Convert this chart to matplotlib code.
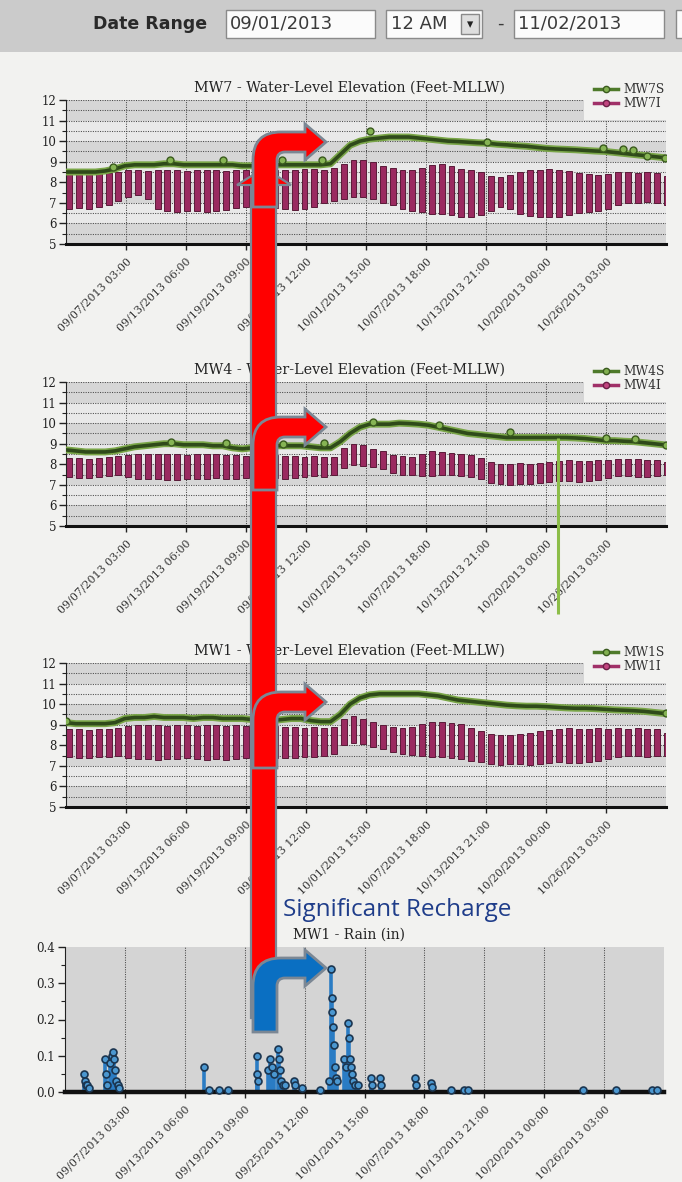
import matplotlib
matplotlib.use('Agg')
import matplotlib.pyplot as plt
from matplotlib.patches import Rectangle, PathPatch
from matplotlib.path import Path
from matplotlib.lines import Line2D
import numpy as np
from datetime import datetime

# ---------------- data ----------------
start_date = "09/01/2013 00:00"
end_date_text = "11/02/2013"
tick_labels = ["09/07/2013 03:00", "09/13/2013 06:00", "09/19/2013 09:00",
               "09/25/2013 12:00", "10/01/2013 15:00", "10/07/2013 18:00",
               "10/13/2013 21:00", "10/20/2013 00:00", "10/26/2013 03:00"]

days = np.arange(62)  # daily samples since 09/01/2013

mw7s = [8.5, 8.5, 8.5, 8.5, 8.55, 8.65, 8.8, 8.85, 8.85, 8.85, 8.9, 8.9, 8.85, 8.85,
        8.85, 8.85, 8.85, 8.85, 8.8, 8.8, 8.85, 8.85, 8.85, 8.85, 8.85, 8.85, 8.85, 8.9,
        9.35, 9.8, 10.0, 10.1, 10.15, 10.2, 10.2, 10.2, 10.15, 10.1, 10.05, 10.0, 9.98,
        9.95, 9.92, 9.9, 9.85, 9.82, 9.78, 9.75, 9.7, 9.65, 9.62, 9.6, 9.58, 9.55, 9.52,
        9.5, 9.45, 9.4, 9.35, 9.3, 9.25, 9.2]
mw7i_high = [8.4, 8.4, 8.4, 8.45, 8.45, 8.5,
             8.6, 8.6, 8.55, 8.6, 8.6, 8.6, 8.55, 8.6, 8.6, 8.6, 8.55, 8.6, 8.6, 8.6, 8.55,
             8.6, 8.6, 8.6, 8.65, 8.65, 8.6, 8.7,
             8.9, 9.1, 9.1, 9.0, 8.8, 8.7, 8.6, 8.6, 8.7, 8.85, 8.9, 8.8, 8.65, 8.6, 8.5,
             8.3, 8.25, 8.35, 8.5, 8.6, 8.6, 8.65, 8.6, 8.55, 8.45, 8.4, 8.35, 8.4,
             8.5, 8.5, 8.45, 8.5, 8.45, 8.3]
mw7i_low = [6.7, 6.75, 6.7, 6.8, 6.9, 7.1, 7.3, 7.4, 7.2,
            6.7, 6.6, 6.55, 6.6, 6.6, 6.55, 6.6, 6.65, 6.75, 6.8, 6.9, 6.9,
            6.75, 6.7, 6.65, 6.7, 6.8, 7.0, 7.1, 7.2, 7.3, 7.3, 7.2, 7.0, 6.9,
            6.7, 6.6, 6.55, 6.45, 6.45, 6.4, 6.3, 6.3, 6.4, 6.6, 6.8, 6.7,
            6.45, 6.35, 6.3, 6.3, 6.3, 6.4, 6.5, 6.55, 6.6, 6.7,
            6.9, 7.0, 7.0, 7.05, 7.0, 6.9]
mw7s_marker_days = [4.8, 10.6, 16.0, 22.0, 26.1, 31.0, 43.0, 54.8, 56.9, 57.9, 59.3, 61.1]
mw7s_marker_vals = [8.75, 9.1, 9.1, 9.1, 9.1, 10.47, 9.96, 9.66, 9.6, 9.55, 9.3, 9.2]

mw4s = [8.7, 8.65, 8.6, 8.6, 8.6, 8.65, 8.75, 8.85, 8.9, 8.95, 9.0,
        9.0, 8.95, 8.95, 8.95, 8.9, 8.9, 8.8, 8.75, 8.8, 8.85, 8.9,
        8.9, 8.9, 8.9, 8.85, 8.8, 8.8, 9.1, 9.5, 9.8, 9.95,
        9.95, 9.95, 10.0, 9.98, 9.95, 9.9, 9.8, 9.7, 9.6, 9.5, 9.45, 9.4,
        9.35, 9.3, 9.3, 9.3, 9.3, 9.3, 9.3, 9.3, 9.28, 9.25, 9.2,
        9.15, 9.15, 9.12, 9.1, 9.05, 9.0, 8.95]
mw4i_high = [8.3, 8.3, 8.25, 8.3, 8.35, 8.4, 8.45, 8.5, 8.5, 8.5, 8.5,
             8.5, 8.45, 8.5, 8.5, 8.5, 8.45, 8.45, 8.4,
             8.4, 8.4, 8.45, 8.4, 8.4, 8.35, 8.4, 8.35, 8.35,
             8.8, 9.0, 8.95, 8.75, 8.65, 8.45, 8.4, 8.35, 8.5, 8.65, 8.6,
             8.55, 8.5, 8.45, 8.3, 8.1, 8.0, 8.0, 8.05, 8.0, 8.05, 8.1,
             8.15, 8.2, 8.15, 8.15, 8.2, 8.2, 8.25, 8.25, 8.25, 8.2, 8.2, 8.1]
mw4i_low = [7.4, 7.35, 7.35, 7.4, 7.45, 7.5, 7.4, 7.3, 7.3, 7.3, 7.25,
            7.25, 7.3, 7.3, 7.3, 7.35, 7.3, 7.3, 7.35,
            7.35, 7.4, 7.35, 7.3, 7.35, 7.4, 7.45, 7.4, 7.5,
            7.8, 7.95, 7.9, 7.85, 7.75, 7.6, 7.5, 7.5, 7.45, 7.45, 7.5,
            7.5, 7.45, 7.4, 7.3, 7.1, 7.05, 7.0, 7.05, 7.05, 7.1, 7.15,
            7.2, 7.2, 7.15, 7.2, 7.25, 7.35, 7.45, 7.45, 7.4, 7.4, 7.45, 7.5]
mw4s_marker_days = [10.7, 16.3, 22.2, 26.3, 31.3, 38.1, 45.3, 55.1, 58.1, 61.2]
mw4s_marker_vals = [9.1, 9.02, 9.0, 9.05, 10.05, 9.93, 9.55, 9.28, 9.25, 8.95]
mw4s_spike_day = 50.2
mw4s_spike_low = 0.74
mw4s_spike_high = 9.3

mw1s = [9.1, 9.05, 9.05, 9.05, 9.05, 9.1,
        9.3, 9.35, 9.35, 9.4, 9.35, 9.35, 9.35, 9.3, 9.35, 9.35, 9.3, 9.3, 9.3,
        9.25, 9.25, 9.2, 9.25, 9.3, 9.3, 9.2, 9.15, 9.15,
        9.5, 10.0, 10.3, 10.45, 10.5, 10.5, 10.5, 10.5, 10.5, 10.45,
        10.4, 10.3, 10.2, 10.15, 10.1, 10.05, 10.0, 9.95, 9.92, 9.9, 9.9, 9.88,
        9.85, 9.82, 9.8, 9.8, 9.78, 9.75, 9.72, 9.7, 9.68, 9.65, 9.6, 9.55]
mw1i_high = [8.8, 8.8, 8.75, 8.8, 8.8, 8.85,
             8.95, 9.0, 9.0, 9.0, 8.95, 9.0, 9.0, 8.95, 9.0, 9.0, 8.95, 9.0, 8.95,
             8.9, 8.9, 8.95, 8.9, 8.9, 8.85, 8.9, 8.85, 8.9,
             9.3, 9.4, 9.3, 9.15, 9.0, 8.9, 8.85, 8.9, 9.05, 9.15, 9.15, 9.1, 9.05,
             8.85, 8.7, 8.55, 8.5, 8.5, 8.55, 8.6, 8.7, 8.75,
             8.8, 8.85, 8.8, 8.8, 8.85, 8.8, 8.85, 8.8, 8.85, 8.8, 8.8, 8.6]
mw1i_low = [7.45, 7.4, 7.4, 7.45, 7.45, 7.5,
            7.4, 7.35, 7.35, 7.3, 7.35, 7.35, 7.4, 7.35, 7.3, 7.35, 7.3, 7.35, 7.4,
            7.4, 7.45, 7.4, 7.4, 7.4, 7.45, 7.45, 7.5, 7.6,
            8.0, 8.1, 8.05, 7.9, 7.8, 7.65, 7.6, 7.55, 7.5, 7.45, 7.45, 7.4, 7.35,
            7.25, 7.2, 7.1, 7.05, 7.1, 7.1, 7.05, 7.1, 7.15,
            7.2, 7.15, 7.15, 7.2, 7.25, 7.35, 7.45, 7.5, 7.5, 7.45, 7.5, 7.5]
mw1s_marker_days = [0.0, 61.2]
mw1s_marker_vals = [9.2, 9.55]

rain_days = [1.9, 2.0, 2.1, 2.3, 2.5,
             4.1, 4.2, 4.3, 4.6, 4.8, 4.9, 5.0, 5.1, 5.2, 5.4, 5.5,
             14.2, 14.7, 15.7, 16.7,
             19.6, 19.65, 19.7,
             20.8, 21.0, 21.2, 21.4, 21.8, 21.9, 22.0, 22.1, 22.3, 22.5,
             23.4, 23.5, 24.2, 26.1,
             27.0, 27.2, 27.3, 27.35, 27.4, 27.5, 27.6, 27.7, 27.8,
             28.5, 28.7, 28.9, 29.0, 29.1, 29.2, 29.3, 29.5, 29.7,
             30.0, 31.3, 31.4, 32.2, 32.3,
             35.8, 35.85, 37.4, 37.5, 39.5, 40.8, 41.2, 53.0, 56.3, 60.0, 60.5]
rain_vals = [0.05, 0.03, 0.02, 0.02, 0.01,
             0.09, 0.05, 0.02, 0.08, 0.10, 0.11, 0.09, 0.06, 0.03, 0.02, 0.01,
             0.07, 0.005, 0.005, 0.005,
             0.10, 0.05, 0.03,
             0.06, 0.09, 0.07, 0.05, 0.12, 0.09, 0.06, 0.03, 0.02, 0.02,
             0.03, 0.02, 0.01, 0.005,
             0.03, 0.34, 0.26, 0.22, 0.18, 0.13, 0.07, 0.04, 0.03,
             0.09, 0.07, 0.19, 0.15, 0.09, 0.07, 0.05, 0.03, 0.02,
             0.02, 0.04, 0.02, 0.04, 0.02,
             0.04, 0.02, 0.025, 0.015, 0.005, 0.005, 0.005, 0.005, 0.005, 0.005, 0.005]

# ---------------- layout ----------------
W, H = 682, 1182
plt.rcParams['font.family'] = ['DejaVu Serif']
PAGE = '#f2f2f0'
fig = plt.figure(figsize=(W / 100, H / 100), dpi=100, facecolor=PAGE)

t0 = datetime.strptime(start_date, "%m/%d/%Y %H:%M")
tick_pos = [(datetime.strptime(s, "%m/%d/%Y %H:%M") - t0).total_seconds() / 86400
            for s in tick_labels]
XMAX = 61.25


def fx(x):
    return x / W


def fy(y):
    return 1 - y / H


def rect_px(x, y, w, h, fc, ec='none', lw=1.0, z=1):
    r = Rectangle((fx(x), fy(y + h)), w / W, h / H, transform=fig.transFigure,
                  facecolor=fc, edgecolor=ec, linewidth=lw, zorder=z)
    fig.add_artist(r)


def add_axes_px(top, bottom, left=66, right=666):
    return fig.add_axes([fx(left), fy(bottom), (right - left) / W, (bottom - top) / H])


GRID = dict(color='#4a4a4a', linestyle=(0, (1, 1.3)), linewidth=0.75)


def style_x(ax):
    ax.set_xlim(0, XMAX)
    ax.set_xticks(tick_pos)
    ax.set_xticklabels(tick_labels, rotation=45, ha='right', va='top',
                       rotation_mode='anchor', fontsize=7.9, color='#333333')
    ax.tick_params(axis='x', length=4, width=1, pad=5, color='#222222')
    ax.spines['top'].set_visible(False)
    ax.spines['right'].set_visible(False)
    ax.spines['left'].set_color('#222222')
    ax.spines['bottom'].set_color('#111111')


def level_chart(top, title, s_vals, hi, lo, mk_d, mk_v, names):
    ax = add_axes_px(top, top + 144)
    ax.set_facecolor('#e9e9e9')
    ax.set_ylim(5, 12)
    for b in (5, 7, 9, 11):
        ax.axhspan(b, b + 1, color='#d6d6d6', zorder=0, lw=0)
    ax.set_axisbelow(True)
    ax.set_yticks(range(5, 13))
    ax.set_yticks(np.arange(5, 12.01, 0.5), minor=True)
    ax.grid(which='both', axis='y', **GRID)
    ax.grid(which='major', axis='x', **GRID)
    ax.tick_params(axis='y', which='major', length=5, width=1, labelsize=8.5,
                   pad=2, color='#222222', labelcolor='#222222')
    ax.tick_params(axis='y', which='minor', length=3, width=0.8, color='#222222')
    style_x(ax)
    ax.spines['bottom'].set_linewidth(2.2)
    # legend backdrop
    ax.add_patch(Rectangle((52.9, 11.05), XMAX, 1.2, facecolor=PAGE,
                           edgecolor='none', zorder=0.8))
    hi = np.asarray(hi)
    lo = np.asarray(lo)
    ax.bar(days + 0.35, hi - lo, bottom=lo, width=0.6, color='#9a2a60',
           edgecolor='#5a1a38', linewidth=0.7, zorder=2)
    ax.plot(days, s_vals, color='#7aa648', lw=5.0, solid_capstyle='round', zorder=3)
    ax.plot(days, s_vals, color='#2f4a1a', lw=2.6, solid_capstyle='round', zorder=3.1)
    ax.plot(mk_d, mk_v, 'o', ms=5, mfc='#86b454', mec='#3a5a1e', mew=1, zorder=3.2)
    fig.text(fx(349), fy(top - 12), title, ha='center', va='center',
             fontsize=10.3, color='#222222')
    handles = [Line2D([], [], color='#4e7a2a', lw=2.5, marker='o', ms=4.5,
                      mfc='#82b050', mec='#3a5a1e'),
               Line2D([], [], color='#a03068', lw=2.5, marker='o', ms=4.5,
                      mfc='#c2457f', mec='#6a1f45')]
    leg = ax.legend(handles, names, loc='upper left',
                    bbox_to_anchor=(fx(594), fy(top - 17)),
                    bbox_transform=fig.transFigure, frameon=False, fontsize=8.8,
                    handlelength=2.0, handletextpad=0.4, labelspacing=0.12,
                    borderaxespad=0, borderpad=0)
    for tx in leg.get_texts():
        tx.set_color('#333333')
    return ax


ax7 = level_chart(100, "MW7 - Water-Level Elevation (Feet-MLLW)", mw7s,
                  mw7i_high, mw7i_low, mw7s_marker_days, mw7s_marker_vals,
                  ['MW7S', 'MW7I'])
ax4 = level_chart(382, "MW4 - Water-Level Elevation (Feet-MLLW)", mw4s,
                  mw4i_high, mw4i_low, mw4s_marker_days, mw4s_marker_vals,
                  ['MW4S', 'MW4I'])
ax4.vlines(mw4s_spike_day, mw4s_spike_low, mw4s_spike_high, color='#8cbd48',
           lw=2.2, clip_on=False, zorder=4)
ax1 = level_chart(663, "MW1 - Water-Level Elevation (Feet-MLLW)", mw1s,
                  mw1i_high, mw1i_low, mw1s_marker_days, mw1s_marker_vals,
                  ['MW1S', 'MW1I'])

# rain chart
axr = add_axes_px(947, 1092, left=65, right=664)
axr.set_facecolor('#d4d4d4')
axr.set_ylim(0, 0.4)
axr.set_yticks(np.arange(0, 0.41, 0.1))
axr.set_yticks(np.arange(0, 0.41, 0.05), minor=True)
axr.set_yticklabels([f"{v:.1f}" for v in np.arange(0, 0.41, 0.1)])
axr.set_axisbelow(True)
axr.grid(which='major', axis='x', **GRID)
axr.tick_params(axis='y', which='major', length=5, width=1, labelsize=8.5, pad=2,
                color='#222222', labelcolor='#222222')
axr.tick_params(axis='y', which='minor', length=3, width=0.8, color='#222222')
style_x(axr)
axr.spines['bottom'].set_linewidth(3.2)
axr.vlines(rain_days, 0, rain_vals, color='#2a7cc4', lw=2.6, zorder=2)
axr.plot(rain_days, rain_vals, 'o', ms=5, mfc='#4b97d0', mec='#1b3550', mew=1.2,
         zorder=3, clip_on=False)
fig.text(fx(349), fy(935), "MW1 - Rain (in)", ha='center', va='center',
         fontsize=10, color='#222222')
fig.text(fx(283), fy(910), "Significant Recharge", ha='left', va='center',
         fontsize=17.5, color='#1f3d8a', family=['Open Sans', 'DejaVu Sans'])

# ---------------- header ----------------
rect_px(0, 0, W, 52, '#cbcbcb', z=1)
fig.text(fx(93), fy(24), "Date Range", ha='left', va='center', fontsize=12.5,
         fontweight='bold', color='#2a2a2a', family=['DejaVu Sans'])
rect_px(226, 10, 149, 28, '#fbfbfb', '#8a8a8a', 1, z=2)
fig.text(fx(230), fy(24), start_date.split()[0], ha='left', va='center',
         fontsize=13, color='#3a3a3a', family=['DejaVu Sans'])
rect_px(386, 10, 96, 28, '#fbfbfb', '#8a8a8a', 1, z=2)
fig.text(fx(391), fy(24), "12 AM", ha='left', va='center', fontsize=13,
         color='#3a3a3a', family=['DejaVu Sans'])
rect_px(461, 14, 18, 20, '#dedede', '#8a8a8a', 1, z=3)
fig.text(fx(470), fy(25), "\u25BE", ha='center', va='center', fontsize=9,
         color='#222222', family=['DejaVu Sans'])
fig.text(fx(500), fy(24), "-", ha='center', va='center', fontsize=13,
         color='#3a3a3a', family=['DejaVu Sans'])
rect_px(514, 10, 150, 28, '#fbfbfb', '#8a8a8a', 1, z=2)
fig.text(fx(518), fy(24), end_date_text, ha='left', va='center', fontsize=13,
         color='#3a3a3a', family=['DejaVu Sans'])
rect_px(676, 10, 20, 28, '#fbfbfb', '#8a8a8a', 1, z=2)

# ---------------- annotation arrows ----------------
EDGE = '#7b8794'


def to_fig(pts):
    return [(fx(x), fy(y)) for x, y in pts]


def long_arrow():
    pts = [(251, 1018), (251, 185), (237, 185), (264, 168), (291, 185),
           (276, 185), (276, 1018), (251, 1018)]
    codes = [Path.MOVETO] + [Path.LINETO] * 6 + [Path.CLOSEPOLY]
    fig.add_artist(PathPatch(Path(to_fig(pts), codes), transform=fig.transFigure,
                             facecolor='#ff0000', edgecolor=EDGE, lw=1.6, zorder=20))


def bent_arrow(yb, yt, fc, x0=253, x1=277, t=20, R=28, r_in=8, xh=305, hh=18,
               xtip=326):
    yc = yt + t / 2
    pts = [(x0, yb), (x0, yt + R), (x0, yt), (x0 + R, yt), (xh, yt),
           (xh, yc - hh), (xtip, yc), (xh, yc + hh), (xh, yt + t),
           (x1 + r_in, yt + t), (x1, yt + t), (x1, yt + t + r_in), (x1, yb),
           (x0, yb)]
    codes = [Path.MOVETO, Path.LINETO, Path.CURVE3, Path.CURVE3, Path.LINETO,
             Path.LINETO, Path.LINETO, Path.LINETO, Path.LINETO, Path.LINETO,
             Path.CURVE3, Path.CURVE3, Path.LINETO, Path.CLOSEPOLY]
    fig.add_artist(PathPatch(Path(to_fig(pts), codes), transform=fig.transFigure,
                             facecolor=fc, edgecolor=EDGE, lw=2.0, zorder=21,
                             joinstyle='miter'))


long_arrow()
bent_arrow(207, 132, '#ff0000')
bent_arrow(490, 417, '#ff0000')
bent_arrow(768, 692, '#ff0000')
bent_arrow(1032, 958, '#0a6fc2')

fig.savefig('out.png', dpi=100, facecolor=PAGE)
